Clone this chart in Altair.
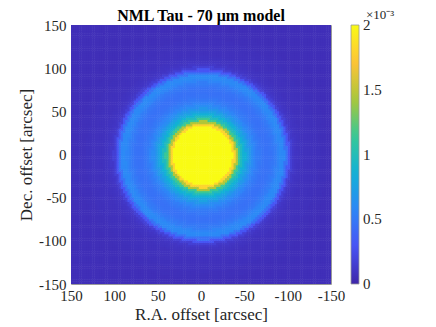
import altair as alt
import pandas as pd
import numpy as np

# Radial profile of the model (flux in units of 1e-3)
radius_arcsec = [0, 3, 6, 9, 12, 15, 18, 21, 24, 27, 30, 33, 36, 39, 42, 45, 48, 51, 54, 57,
                 60, 63, 66, 69, 72, 75, 78, 81, 84, 87, 90, 93, 96, 99, 102, 105, 108, 111,
                 114, 117, 120, 125, 130, 140, 150]
flux_e3 = [2.6, 2.6, 2.6, 2.6, 2.6, 2.6, 2.6, 2.55, 2.5, 2.4, 2.3, 2.1, 1.8, 1.45, 1.15,
           0.97, 0.86, 0.76, 0.68, 0.61, 0.56, 0.52, 0.49, 0.47, 0.46, 0.46, 0.47, 0.49,
           0.52, 0.56, 0.59, 0.58, 0.46, 0.3, 0.17, 0.12, 0.1, 0.09, 0.085, 0.08, 0.08,
           0.075, 0.07, 0.065, 0.06]
center_offset = [-2.0, -1.5]   # model centre (RA, Dec) in arcsec
pixel = 2.5

x_ticks = [150, 100, 50, 0, -50, -100, -150]
y_ticks = [150, 100, 50, 0, -50, -100, -150]
# colorbar ticks (end ticks nudged inside so Vega centres their labels)
cbar_ticks = [0.0001, 0.5, 1, 1.5, 1.9999]

# parula colormap stops
parula = ["#3e26a8", "#4852f4", "#2e87f7", "#12b1d6", "#37c897", "#abc739", "#fec338", "#f9fb15"]
parula_domain = [2 * i / 7 for i in range(8)]

# Build the image table from the radial profile
rows = []
edges = np.arange(-150, 150, pixel)
prof_r = np.array(radius_arcsec, dtype=float)
prof_v = np.array(flux_e3, dtype=float)
overlap = 0.6
for x0 in edges:
    for y0 in edges:
        xc, yc = x0 + pixel / 2, y0 + pixel / 2
        r = np.hypot(xc - center_offset[0], yc - center_offset[1])
        k = int(np.argmin(np.abs(prof_r - r))) if r <= prof_r[-1] else len(prof_r) - 1
        rows.append({"x0": float(x0), "x1": float(min(x0 + pixel + overlap, 150)),
                     "y0": float(y0), "y1": float(min(y0 + pixel + overlap, 150)),
                     "flux": float(prof_v[k])})
df = pd.DataFrame(rows)

font = "Liberation Serif"
cscale = alt.Scale(domain=parula_domain, range=parula, clamp=True, interpolate="rgb")
num_label = "'' + datum.value"
cbar_label = "'' + round(datum.value * 10) / 10"

chart = alt.Chart(df).mark_rect().encode(
    x=alt.X("x0:Q", scale=alt.Scale(domain=[-150, 150], reverse=True, nice=False, zero=False),
            axis=alt.Axis(values=x_ticks, title="R.A. offset [arcsec]", grid=False, ticks=False,
                          domain=False, labelPadding=4, titlePadding=3, labelFlush=False,
                          labelExpr=num_label)),
    x2="x1",
    y=alt.Y("y0:Q", scale=alt.Scale(domain=[-150, 150], nice=False, zero=False),
            axis=alt.Axis(values=y_ticks, title="Dec. offset [arcsec]", grid=False, ticks=False,
                          domain=False, labelPadding=5, titlePadding=3, labelFlush=False,
                          labelExpr=num_label)),
    y2="y1",
    color=alt.Color("flux:Q", scale=cscale,
                    legend=alt.Legend(type="gradient", title="×10⁻³", values=cbar_ticks,
                                      orient="none", legendX=280, legendY=-16,
                                      gradientLength=259, gradientThickness=8,
                                      direction="vertical", labelExpr=cbar_label,
                                      titleFont=font, titleFontSize=13, titleFontWeight="normal",
                                      titleColor="#262626", titleAnchor="middle", titleAlign="left",
                                      titlePadding=3,
                                      labelFont=font, labelFontSize=15, labelColor="#262626",
                                      labelOffset=4,
                                      gradientStrokeColor="#999", gradientStrokeWidth=0.8)),
).properties(
    width=260, height=259,
    title=alt.TitleParams("NML Tau - 70 μm model", font=font, fontSize=16, fontWeight="bold",
                          color="#000000", offset=-15, anchor="middle", frame="group"),
    autosize=alt.AutoSizeParams(type="none"),
    padding={"left": 63, "top": 17, "right": 97, "bottom": 43},
).configure_axis(
    labelFont=font, labelFontSize=15, labelColor="#262626",
    titleFont=font, titleFontSize=17, titleFontWeight="normal", titleColor="#262626",
).configure_view(stroke="#9a9a9a", strokeWidth=1)

chart.save("out.html", embed_options={"renderer": "svg", "actions": False})
